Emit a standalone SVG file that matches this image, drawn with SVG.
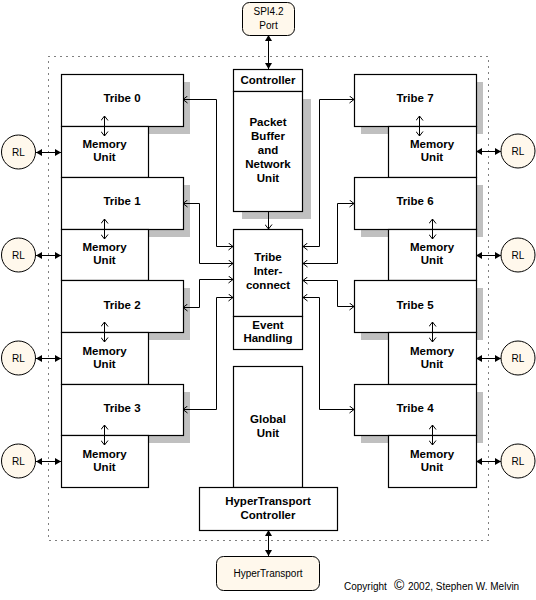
<svg xmlns="http://www.w3.org/2000/svg" width="536" height="600" viewBox="0 0 536 600">
<style>
.box{fill:#fff;stroke:#000;stroke-width:1.2}
.sh{fill:#c0c0c0}
.ext{fill:#fff8ec;stroke:#000;stroke-width:1}
.b{font-family:"Liberation Sans",Arial,sans-serif;font-weight:bold;font-size:11.5px;text-anchor:middle;fill:#000}
.r{font-family:"Liberation Sans",Arial,sans-serif;font-size:10px;text-anchor:middle;fill:#000}
.c{fill:none;stroke:#000;stroke-width:1}
.o{marker-start:url(#oa);marker-end:url(#oa)}
.f{marker-start:url(#fa);marker-end:url(#fa)}
</style>
<defs>
<marker id="oa" markerUnits="userSpaceOnUse" viewBox="0 0 5 8" refX="5" refY="4" markerWidth="5" markerHeight="8" orient="auto-start-reverse"><path d="M0.5,0.5 L5,4 L0.5,7.5" fill="none" stroke="#000" stroke-width="1"/></marker>
<marker id="fa" markerUnits="userSpaceOnUse" viewBox="0 0 6 7" refX="6" refY="3.5" markerWidth="6" markerHeight="7" orient="auto-start-reverse"><path d="M0,0 L6,3.5 L0,7 z" fill="#000"/></marker>
<marker id="oe" markerUnits="userSpaceOnUse" viewBox="0 0 5 8" refX="5" refY="4" markerWidth="5" markerHeight="8" orient="auto"><path d="M0.5,0.5 L5,4 L0.5,7.5" fill="none" stroke="#000" stroke-width="1"/></marker>
</defs>

<rect x="48.5" y="56.5" width="440" height="484" fill="none" stroke="#000" stroke-width="1" stroke-dasharray="1 5"/>

<g id="shadows">
<rect class="sh" x="68" y="82" width="122" height="52"/>
<rect class="sh" x="68" y="185" width="122" height="52"/>
<rect class="sh" x="68" y="288" width="122" height="52"/>
<rect class="sh" x="68" y="392" width="122" height="51"/>
<rect class="sh" x="361" y="82" width="122" height="52"/>
<rect class="sh" x="361" y="185" width="122" height="52"/>
<rect class="sh" x="361" y="288" width="122" height="52"/>
<rect class="sh" x="361" y="392" width="122" height="51"/>
<rect class="sh" x="242" y="99" width="69" height="120"/>
</g>

<g id="connectors">
<path class="c o" d="M183,99.5 H216.5 V246.5 H233"/>
<path class="c o" d="M183,203.5 H199.5 V263.5 H233"/>
<path class="c o" d="M183,307.5 H199.5 V279.5 H233"/>
<path class="c o" d="M183,409.5 H216.5 V297.5 H233"/>
<path class="c o" d="M303,246.5 H319.5 V99.5 H354"/>
<path class="c o" d="M303,263.5 H337.5 V203.5 H354"/>
<path class="c o" d="M303,280.5 H337.5 V306.5 H354"/>
<path class="c o" d="M303,297.5 H319.5 V409.5 H354"/>
<path class="c" d="M268.5,211 V229" marker-end="url(#oe)"/>
<path class="c f" d="M268.5,35 V69"/>
<path class="c f" d="M268.5,530 V556"/>
<path class="c f" d="M36,152.5 H61"/>
<path class="c f" d="M36,255.5 H61"/>
<path class="c f" d="M36,358.5 H61"/>
<path class="c f" d="M36,461.5 H61"/>
<path class="c f" d="M476,151.5 H501"/>
<path class="c f" d="M476,255.5 H501"/>
<path class="c f" d="M476,358.5 H501"/>
<path class="c f" d="M476,461.5 H501"/>
</g>

<g id="tribe0"><rect class="box" x="61.5" y="74.5" width="122" height="52"/><text class="b" x="122" y="102">Tribe 0</text></g>
<g id="mem0"><rect class="box" x="61.5" y="126.5" width="87" height="51"/><text class="b" x="104.5" y="148">Memory</text><text class="b" x="104.5" y="161">Unit</text></g>
<g id="tribe1"><rect class="box" x="61.5" y="177.5" width="122" height="52"/><text class="b" x="122" y="205">Tribe 1</text></g>
<g id="mem1"><rect class="box" x="61.5" y="229.5" width="87" height="51"/><text class="b" x="104.5" y="251">Memory</text><text class="b" x="104.5" y="264">Unit</text></g>
<g id="tribe2"><rect class="box" x="61.5" y="280.5" width="122" height="52"/><text class="b" x="122" y="309">Tribe 2</text></g>
<g id="mem2"><rect class="box" x="61.5" y="332.5" width="87" height="52"/><text class="b" x="104.5" y="355">Memory</text><text class="b" x="104.5" y="368">Unit</text></g>
<g id="tribe3"><rect class="box" x="61.5" y="384.5" width="122" height="51"/><text class="b" x="122" y="412">Tribe 3</text></g>
<g id="mem3"><rect class="box" x="61.5" y="435.5" width="87" height="52"/><text class="b" x="104.5" y="458">Memory</text><text class="b" x="104.5" y="471">Unit</text></g>

<g id="tribe7"><rect class="box" x="354.5" y="74.5" width="122" height="52"/><text class="b" x="415" y="102">Tribe 7</text></g>
<g id="mem7"><rect class="box" x="388.5" y="126.5" width="88" height="51"/><text class="b" x="432" y="148">Memory</text><text class="b" x="432" y="161">Unit</text></g>
<g id="tribe6"><rect class="box" x="354.5" y="177.5" width="122" height="52"/><text class="b" x="415" y="205">Tribe 6</text></g>
<g id="mem6"><rect class="box" x="388.5" y="229.5" width="88" height="51"/><text class="b" x="432" y="251">Memory</text><text class="b" x="432" y="264">Unit</text></g>
<g id="tribe5"><rect class="box" x="354.5" y="280.5" width="122" height="52"/><text class="b" x="415" y="309">Tribe 5</text></g>
<g id="mem5"><rect class="box" x="388.5" y="332.5" width="88" height="52"/><text class="b" x="432" y="355">Memory</text><text class="b" x="432" y="368">Unit</text></g>
<g id="tribe4"><rect class="box" x="354.5" y="384.5" width="122" height="51"/><text class="b" x="415" y="412">Tribe 4</text></g>
<g id="mem4"><rect class="box" x="388.5" y="435.5" width="88" height="52"/><text class="b" x="432" y="458">Memory</text><text class="b" x="432" y="471">Unit</text></g>

<g id="tm-arrows">
<path class="c o" d="M104.5,116 V136"/>
<path class="c o" d="M104.5,219 V239"/>
<path class="c o" d="M104.5,322 V342"/>
<path class="c o" d="M104.5,425 V445"/>
<path class="c o" d="M419.5,116 V136"/>
<path class="c o" d="M432.5,219 V239"/>
<path class="c o" d="M432.5,322 V342"/>
<path class="c o" d="M432.5,425 V445"/>
</g>

<g id="controller"><rect class="box" x="233.5" y="69.5" width="69" height="22"/><text class="b" x="268" y="84">Controller</text></g>
<g id="packet"><rect class="box" x="233.5" y="91.5" width="69" height="120"/>
<text class="b" x="268" y="126">Packet</text><text class="b" x="268" y="140">Buffer</text><text class="b" x="268" y="154">and</text><text class="b" x="268" y="168">Network</text><text class="b" x="268" y="182">Unit</text></g>
<g id="interconnect"><rect class="box" x="233.5" y="229.5" width="69" height="87"/>
<text class="b" x="268" y="261">Tribe</text><text class="b" x="268" y="275">Inter-</text><text class="b" x="268" y="289">connect</text></g>
<g id="event"><rect class="box" x="233.5" y="316.5" width="69" height="33"/>
<text class="b" x="268" y="329">Event</text><text class="b" x="268" y="342">Handling</text></g>
<g id="global"><rect class="box" x="233.5" y="366.5" width="69" height="121"/>
<text class="b" x="268" y="423">Global</text><text class="b" x="268" y="437">Unit</text></g>
<g id="htc"><rect class="box" x="199.5" y="487.5" width="138" height="43"/>
<text class="b" x="268" y="505">HyperTransport</text><text class="b" x="268" y="519">Controller</text></g>

<g id="spi"><rect class="ext" x="242.5" y="2.5" width="52" height="33" rx="7"/><text class="r" x="268.5" y="15">SPI4.2</text><text class="r" x="268.5" y="29">Port</text></g>
<g id="ht"><rect class="ext" x="216.5" y="556.5" width="103" height="34" rx="7"/><text class="r" x="268" y="577">HyperTransport</text></g>

<g id="rl-left">
<g id="rl0"><circle class="ext" cx="18.5" cy="152" r="17"/><text class="r" x="18.5" y="156">RL</text></g>
<g id="rl1"><circle class="ext" cx="18.5" cy="255" r="17"/><text class="r" x="18.5" y="259">RL</text></g>
<g id="rl2"><circle class="ext" cx="18.5" cy="358" r="17"/><text class="r" x="18.5" y="362">RL</text></g>
<g id="rl3"><circle class="ext" cx="18.5" cy="461" r="17"/><text class="r" x="18.5" y="465">RL</text></g>
</g>
<g id="rl-right">
<g id="rl7"><circle class="ext" cx="518" cy="151" r="17"/><text class="r" x="518" y="155">RL</text></g>
<g id="rl6"><circle class="ext" cx="518" cy="255" r="17"/><text class="r" x="518" y="259">RL</text></g>
<g id="rl5"><circle class="ext" cx="518" cy="358" r="17"/><text class="r" x="518" y="362">RL</text></g>
<g id="rl4"><circle class="ext" cx="518" cy="461" r="17"/><text class="r" x="518" y="465">RL</text></g>
</g>

<text font-family="'Liberation Sans',Arial,sans-serif" font-size="10" fill="#000" y="590"><tspan x="344">Copyright</tspan><tspan x="394" font-size="14">©</tspan><tspan x="408">2002, Stephen W. Melvin</tspan></text>
</svg>
